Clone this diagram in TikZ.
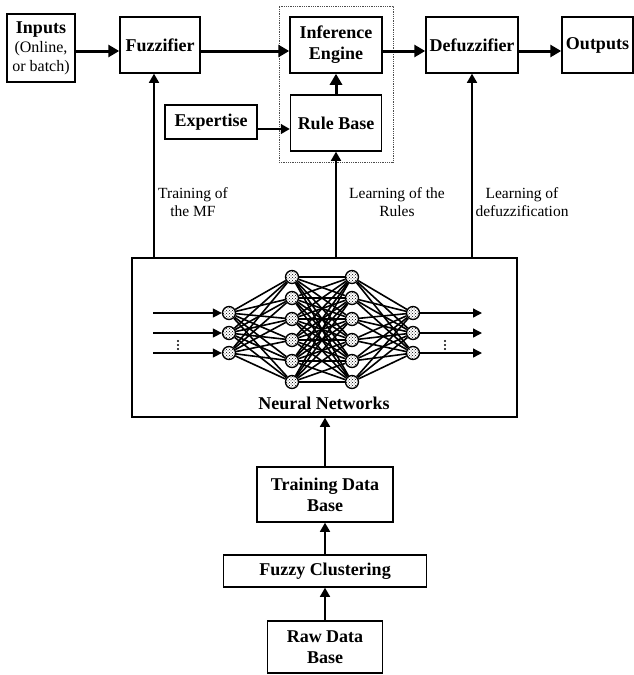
\documentclass[tikz,border=0pt]{standalone}
\usepackage{fontspec}
\setmainfont{Liberation Serif}
\usetikzlibrary{arrows.meta,patterns}
\begin{document}
\begin{tikzpicture}[x=1pt,y=-1pt,
  box/.style={draw,line width=1.5pt,align=center,inner sep=0pt,font=\fontsize{18}{21}\selectfont\bfseries},
  lbl/.style={align=center,inner sep=0pt,font=\fontsize{15.5}{18}\selectfont},
  bigarrow/.style={line width=3pt,-{Triangle[length=11pt,width=12pt]}},
  smallarrow/.style={line width=1.5pt,-{Triangle[length=9pt,width=10pt]}},
  nnarrow/.style={line width=1.4pt,-{Triangle[length=9pt,width=9pt]}},
  neuron/.style={circle,draw,line width=1.3pt,minimum size=13pt,inner sep=0pt,preaction={fill=white},pattern=crosshatch dots},
  link/.style={line width=1.6pt},
  dotbox/.style={draw=black!70,densely dotted,line width=0.8pt,inner sep=0pt},
  dot/.style={circle,fill,inner sep=0pt,minimum size=2.4pt}
]
\useasboundingbox (0,0) rectangle (634,675);

% dotted group
\node[dotbox,minimum width=114pt,minimum height=156pt] (grp) at (336,84) {};

% top row
\node[box,minimum width=68pt,minimum height=68pt,font=\fontsize{16}{19}\selectfont] (inputs) at (41,48)
  {{\fontsize{18}{19}\selectfont\bfseries Inputs}\\(Online,\\or batch)};
\node[box,minimum width=80pt,minimum height=56pt] (fuzz) at (160,45) {Fuzzifier};
\node[box,minimum width=92pt,minimum height=56pt] (inf) at (336,45) {Inference\\Engine};
\node[box,minimum width=92pt,minimum height=56pt] (defuzz) at (472,45) {Defuzzifier};
\node[box,minimum width=71pt,minimum height=56pt] (out) at (597.5,45) {Outputs};
\node[box,minimum width=91pt,minimum height=56pt] (rule) at (336,123) {Rule Base};
\node[box,minimum width=92pt,minimum height=34pt] (exp) at (211,122) {Expertise};

% neural network box
\node[box,minimum width=385pt,minimum height=159pt] (nn) at (324.5,337.5) {};
\node[font=\fontsize{18}{21}\selectfont\bfseries,inner sep=0pt] (nnlbl) at (324,403) {Neural Networks};

% lower boxes
\node[box,minimum width=136pt,minimum height=55pt] (tdb) at (325,494.5) {Training Data\\Base};
\node[box,minimum width=203pt,minimum height=32pt] (fc) at (325,571) {Fuzzy Clustering};
\node[box,minimum width=115pt,minimum height=52pt] (raw) at (325,647) {Raw Data\\Base};

% labels
\node[lbl] (l1) at (193,202) {Training of\\the MF};
\node[lbl] (l2) at (397,202) {Learning of the\\Rules};
\node[lbl] (l3) at (522,202) {Learning of\\defuzzification};

% main arrows
\draw[bigarrow] ([yshift=-3pt]inputs.east) -- ([yshift=-6pt]fuzz.west);
\draw[bigarrow] ([yshift=-6pt]fuzz.east) -- ([yshift=-6pt]inf.west);
\draw[bigarrow] ([yshift=-6pt]inf.east) -- ([yshift=-6pt]defuzz.west);
\draw[bigarrow] ([yshift=-6pt]defuzz.east) -- ([yshift=-6pt]out.west);
\draw[bigarrow] (rule.north) -- (inf.south);
\draw[smallarrow] ([yshift=-7pt]exp.east) -- ([yshift=-6pt]rule.west);

% feedback lines
\path ([xshift=-6pt]fuzz.south) coordinate (fz);
\draw[smallarrow] (fz |- nn.north) -- (fz);
\draw[smallarrow] (rule.south |- nn.north) -- (rule.south);
\draw[smallarrow] (defuzz.south |- nn.north) -- (defuzz.south);

% lower arrows
\draw[smallarrow] (tdb.north) -- (tdb.north |- nn.south);
\draw[smallarrow] (fc.north) -- (tdb.south);
\draw[smallarrow] (raw.north) -- (fc.south);

% neurons
\foreach \i/\y in {1/313,2/333,3/353} {
  \node[neuron] (a\i) at (229,\y) {};
  \node[neuron] (c\i) at (413,\y) {};
  \coordinate (in\i) at (153,\y);
  \coordinate (o\i) at (482,\y);
}
\foreach \i/\y in {1/277,2/298,3/319,4/340,5/361,6/382} {
  \node[neuron] (b\i) at (292,\y) {};
  \node[neuron] (h\i) at (352,\y) {};
}
\foreach \i in {1,2,3} {
  \foreach \j in {1,...,6} {
    \draw[link] (a\i) -- (b\j);
    \draw[link] (h\j) -- (c\i);
  }
  \draw[nnarrow] (in\i) -- (a\i.west);
  \draw[nnarrow] (c\i.east) -- (o\i);
}
\foreach \i in {1,...,6} {
  \foreach \j in {1,...,6} {
    \draw[link] (b\i) -- (h\j);
  }
}
% vertical ellipsis dots
\foreach \y [count=\k] in {341,345,349} {
  \node[dot] (dl\k) at (178,\y) {};
  \node[dot] (dr\k) at (445,\y) {};
}
\end{tikzpicture}
\end{document}
